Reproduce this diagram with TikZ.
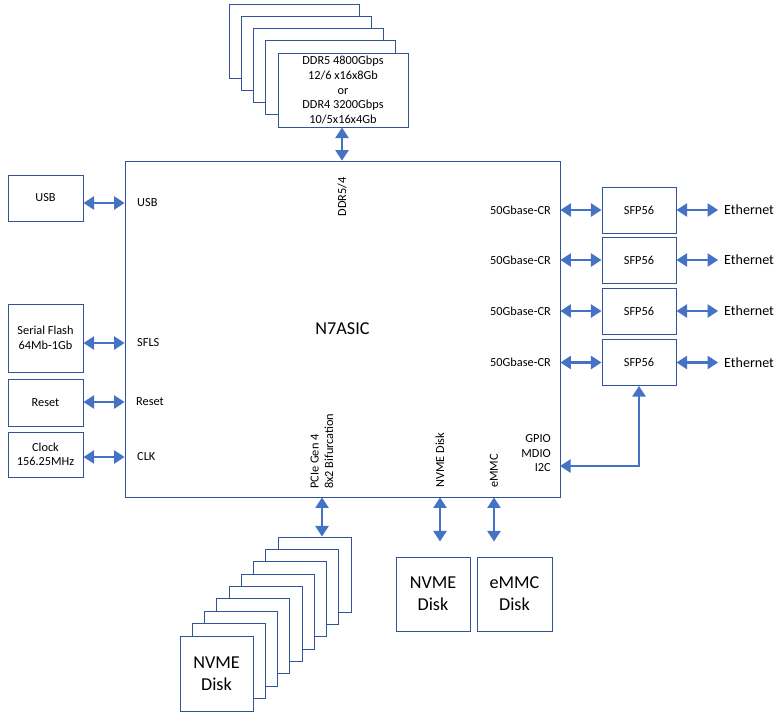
\documentclass[tikz,border=0pt]{standalone}
\usepackage{fontspec}
\setmainfont{Carlito}
\usepackage{tikz}
\usetikzlibrary{arrows.meta,positioning}

\definecolor{boxblue}{RGB}{47,85,151}
\definecolor{arrowblue}{RGB}{68,114,196}
\tikzset{
    blk/.style={draw=boxblue, line width=0.8pt, fill=white, align=center, inner sep=1pt,
        font=\fontsize{10.5}{12.4}\selectfont},
    bigtxt/.style={font=\fontsize{15.5}{18.8}\selectfont},
    portlbl/.style={inner sep=0pt, align=right, font=\fontsize{10.5}{12.4}\selectfont},
    biarrow/.style={arrowblue, line width=2.2pt,
        {Triangle[length=9pt,width=11pt]}-{Triangle[length=9pt,width=11pt]}},
}

\begin{document}
\begin{tikzpicture}[x=0.03cm, y=-0.03cm]
    \useasboundingbox (0,0) rectangle (783,715);

    % ASIC
    \node[blk, bigtxt, line width=0.6pt, minimum width=13.05cm, minimum height=10.08cm] (asic) at (342.5,329) {N7ASIC};

    % DDR memory stack
    \foreach \i in {4,3,2,1}
        \node[blk, minimum width=3.9cm, minimum height=2.22cm] (dd\i) at (343-12.25*\i, 90-12.25*\i) {};
    \node[blk, minimum width=3.9cm, minimum height=2.22cm] (ddr) at (343,90)
        {DDR5 4800Gbps\\12/6 x16x8Gb\\or\\DDR4 3200Gbps\\10/5x16x4Gb};
    \node[portlbl, rotate=90, anchor=east] (pddr) at (342,177) {DDR5/4};
    \draw[biarrow] (pddr |- ddr.south) -- (pddr |- asic.north);

    % Left side blocks
    \node[blk, minimum width=2.25cm, minimum height=1.38cm] (usb) at (45.5,198) {USB};
    \node[blk, minimum width=2.25cm, minimum height=2.04cm] (sf) at (45.5,338) {Serial Flash\\64Mb-1Gb};
    \node[blk, minimum width=2.25cm, minimum height=1.41cm] (rst) at (45.5,402.5) {Reset};
    \node[blk, minimum width=2.25cm, minimum height=1.35cm] (clk) at (45.5,454.5) {Clock\\156.25MHz};
    \node[portlbl, anchor=west] (pusb) at (137,203) {USB};
    \node[portlbl, anchor=west] (psf) at (137,343) {SFLS};
    \node[portlbl, anchor=west] (prst) at (136,402) {Reset};
    \node[portlbl, anchor=west] (pclk) at (137,457) {CLK};
    \draw[biarrow] (usb.east |- pusb) -- (asic.west |- pusb);
    \draw[biarrow] (sf.east |- psf) -- (asic.west |- psf);
    \draw[biarrow] (rst.east |- prst) -- (asic.west |- prst);
    \draw[biarrow] (clk.east |- pclk) -- (asic.west |- pclk);

    % SFP56 ports
    \foreach \i/\y in {1/210,2/260,3/311,4/362.5} {
        \node[blk, minimum width=2.22cm, minimum height=1.38cm] (sfp\i) at (639,\y) {SFP56};
        \node[portlbl, anchor=east] (pcr\i) at (551,\y) {50Gbase-CR};
        \node[inner sep=0pt, anchor=west, font=\fontsize{12}{14}\selectfont] (eth\i) at (724,\y) {Ethernet};
        \draw[biarrow] (asic.east |- sfp\i) -- (sfp\i.west);
        \draw[biarrow] (sfp\i.east) -- ([xshift=-5pt]eth\i.west);
    }

    % management bus to SFP
    \node[portlbl, anchor=south east] (pgpio) at (551,472) {GPIO\\MDIO\\I2C};
    \coordinate (pi2c) at (560,466);
    \draw[biarrow] (sfp4.south) |- (pi2c);

    % PCIe NVME stack
    \foreach \i in {8,7,...,1}
        \node[blk, minimum width=2.19cm, minimum height=2.25cm] (nv\i) at (216.5+12.25*\i, 673.5-12.375*\i) {};
    \node[blk, bigtxt, minimum width=2.19cm, minimum height=2.25cm] (nvstack) at (216.5,673.5) {NVME\\Disk};
    \node[portlbl, rotate=90, anchor=west, align=left] (ppcie) at (322,489) {PCIe Gen 4\\8x2 Bifurcation};
    \draw[biarrow] (ppcie |- asic.south) -- (ppcie |- nv8.north);

    % NVME and eMMC disks
    \node[blk, bigtxt, minimum width=2.22cm, minimum height=2.22cm] (nvme) at (433,594) {NVME\\Disk};
    \node[blk, bigtxt, minimum width=2.25cm, minimum height=2.22cm] (emmc) at (514.5,594) {eMMC\\Disk};
    \node[portlbl, rotate=90, anchor=west] (pnvme) at (440,488) {NVME Disk};
    \node[portlbl, rotate=90, anchor=west] (pemmc) at (494,488) {eMMC};
    \draw[biarrow] (pnvme |- asic.south) -- ([yshift=0.45cm]pnvme |- nvme.north);
    \draw[biarrow] (pemmc |- asic.south) -- ([yshift=0.45cm]pemmc |- emmc.north);
\end{tikzpicture}
\end{document}
